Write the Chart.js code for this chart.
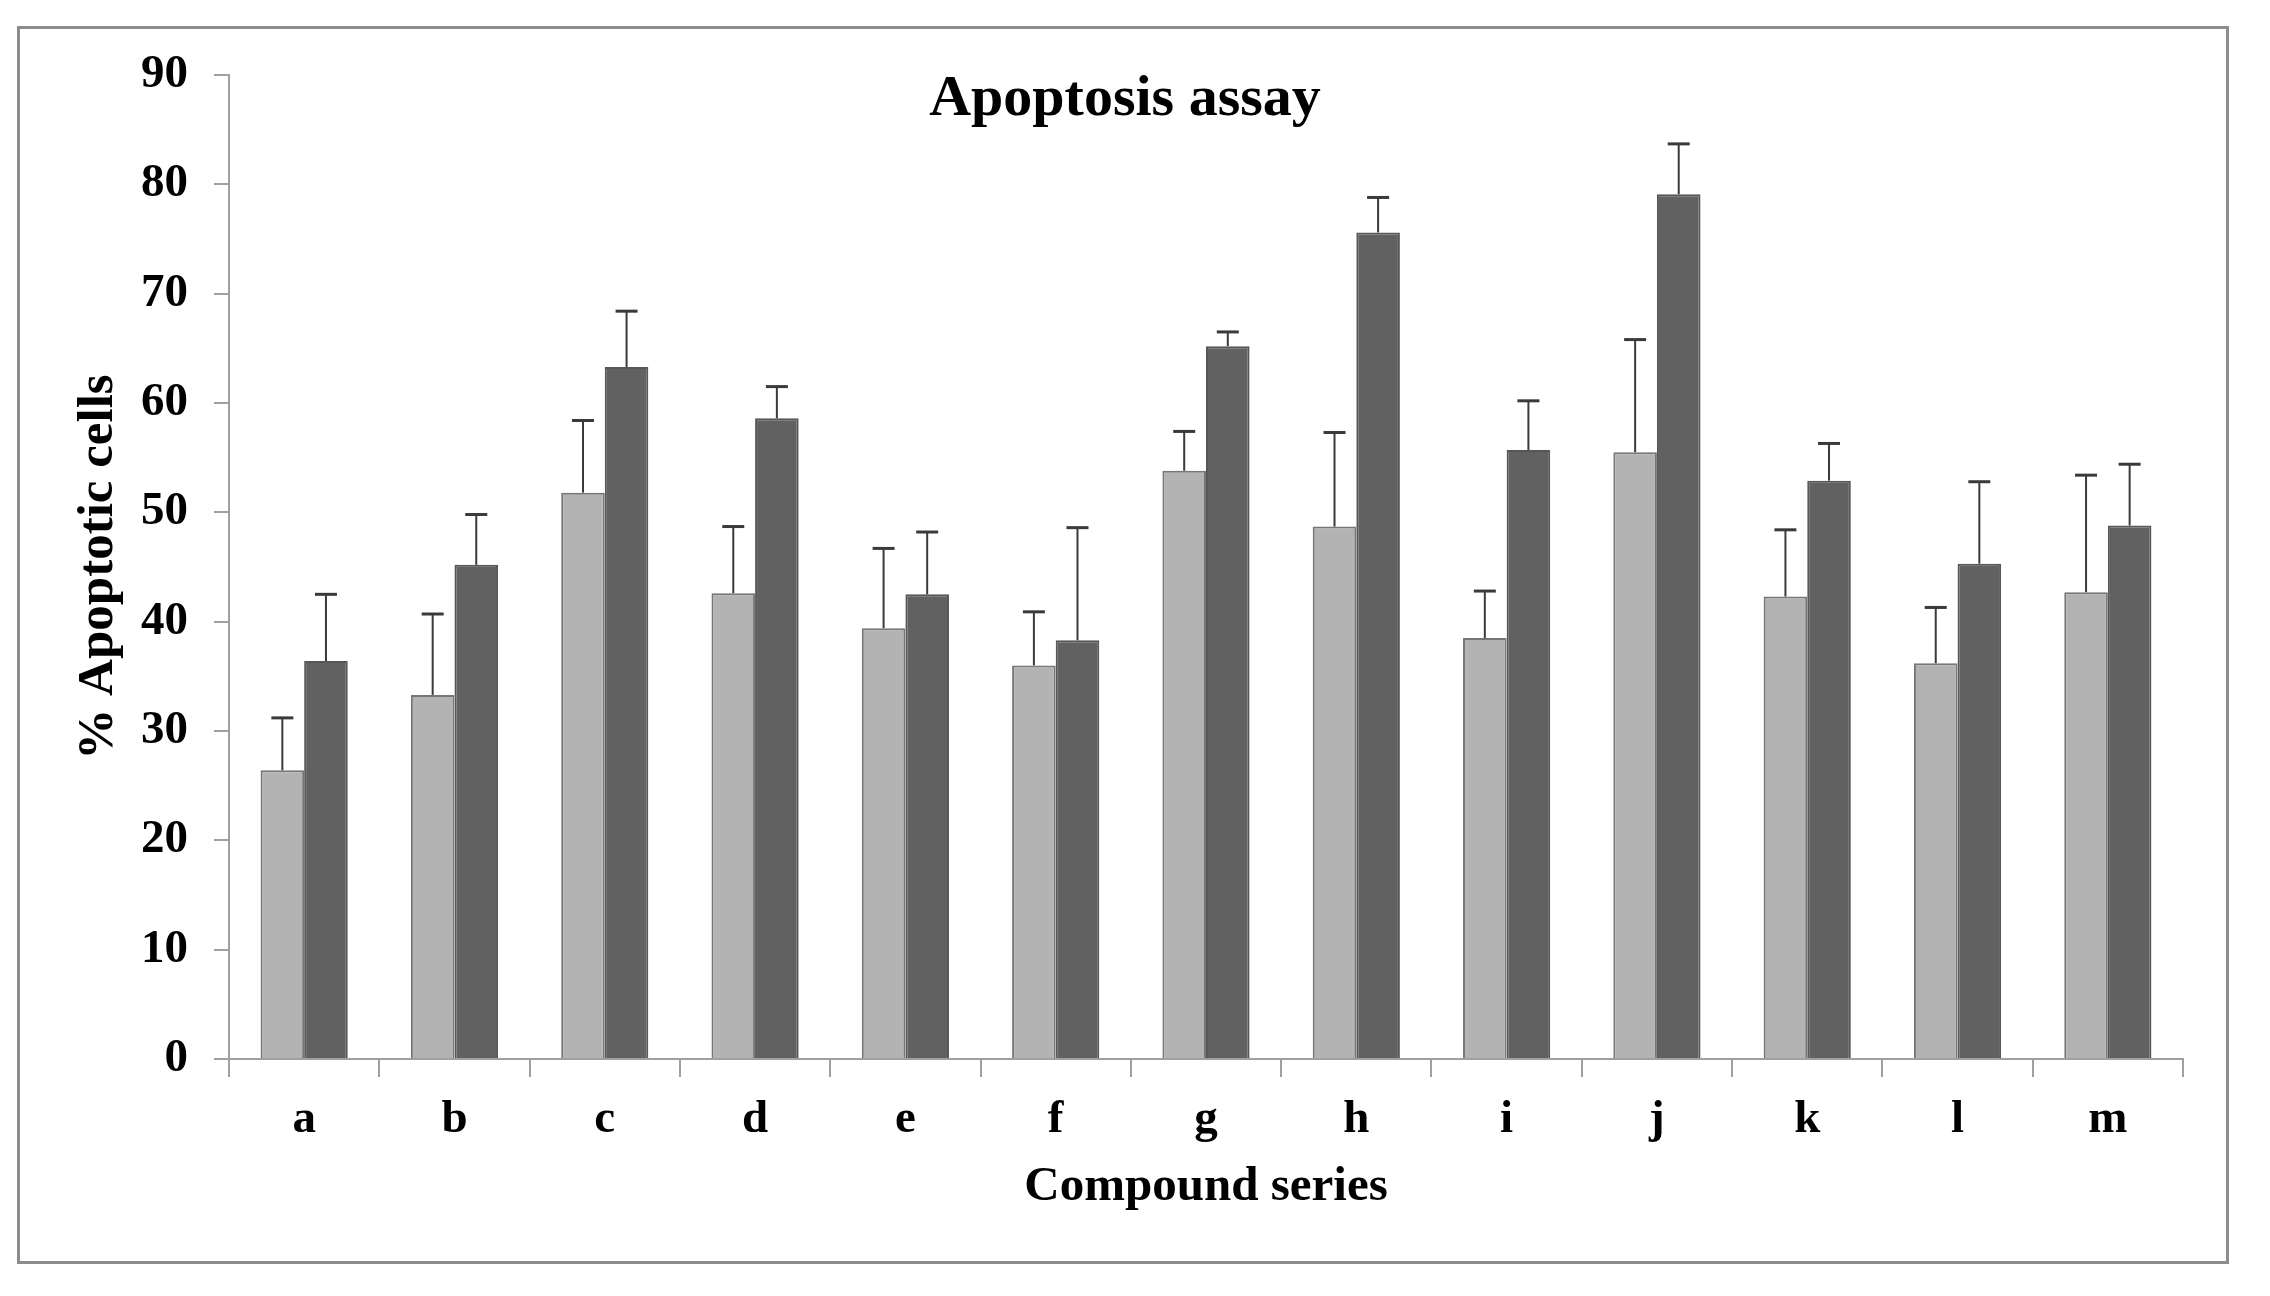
<!DOCTYPE html>
<html>
<head>
<meta charset="utf-8">
<script src="https://cdn.jsdelivr.net/npm/chart.js@4/dist/chart.umd.min.js"></script>
<style>
  html, body { margin: 0; padding: 0; background: #fff; }
  #wrap { position: relative; width: 2270px; height: 1296px; }
</style>
</head>
<body>
<div id="wrap"><canvas id="apoptosisChart"></canvas></div>
<script>
// ── DATA ─────────────────────────────
const categories = ["a", "b", "c", "d", "e", "f", "g", "h", "i", "j", "k", "l", "m"];
const lightValues = [26.4, 33.3, 51.8, 42.6, 39.4, 36.0, 53.8, 48.7, 38.5, 55.5, 42.3, 36.2, 42.7];
const lightErrors = [4.8, 7.4, 6.6, 6.1, 7.3, 4.9, 3.6, 8.6, 4.3, 10.3, 6.1, 5.1, 10.7];
const darkValues = [36.4, 45.2, 63.3, 58.6, 42.5, 38.3, 65.2, 75.6, 55.7, 79.1, 52.9, 45.3, 48.8];
const darkErrors = [6.1, 4.6, 5.1, 2.9, 5.7, 10.3, 1.3, 3.2, 4.5, 4.6, 3.4, 7.5, 5.6];
const yTicks = [0, 10, 20, 30, 40, 50, 60, 70, 80, 90];

const FONT = "'Liberation Serif', 'Times New Roman', serif";

// ── PLUGINS ─────────────────────────────
// outer frame + chart title
const framePlugin = {
  id: "frame",
  beforeDraw(chart) {
    const ctx = chart.ctx;
    ctx.save();
    ctx.fillStyle = "#fff";
    ctx.fillRect(0, 0, chart.width, chart.height);
    ctx.strokeStyle = "#8c8c8c";
    ctx.lineWidth = 3;
    ctx.strokeRect(18.5, 27.5, 2209, 1235);
    ctx.fillStyle = "#000";
    ctx.font = "bold 58px " + FONT;
    ctx.textAlign = "center";
    ctx.textBaseline = "alphabetic";
    ctx.fillText("Apoptosis assay", 1125, 115);
    ctx.restore();
  }
};

// upward error bars with caps
const errorBarPlugin = {
  id: "errorBars",
  afterDatasetsDraw(chart) {
    const ctx = chart.ctx;
    const yScale = chart.scales.y;
    chart.data.datasets.forEach((ds, i) => {
      const meta = chart.getDatasetMeta(i);
      meta.data.forEach((bar, j) => {
        const top = yScale.getPixelForValue(ds.data[j] + ds.errors[j]);
        const x = bar.x;
        ctx.save();
        ctx.strokeStyle = "#3a3a3a";
        ctx.lineWidth = 2;
        ctx.beginPath();
        ctx.moveTo(x, bar.y);
        ctx.lineTo(x, top);
        ctx.stroke();
        ctx.lineWidth = 3;
        ctx.beginPath();
        ctx.moveTo(x - 11, top);
        ctx.lineTo(x + 11, top);
        ctx.stroke();
        ctx.restore();
      });
    });
  }
};

// ── CHART ─────────────────────────────
new Chart(document.getElementById("apoptosisChart").getContext("2d"), {
  type: "bar",
  data: {
    labels: categories,
    datasets: [
      {
        label: "Series 1",
        data: lightValues,
        errors: lightErrors,
        backgroundColor: "#b3b3b3",
        borderColor: "#767676",
        borderWidth: 2,
        categoryPercentage: 0.58,
        barPercentage: 1.0
      },
      {
        label: "Series 2",
        data: darkValues,
        errors: darkErrors,
        backgroundColor: "#616161",
        borderColor: "#575757",
        borderWidth: 2,
        categoryPercentage: 0.58,
        barPercentage: 1.0
      }
    ]
  },
  options: {
    responsive: true,
    maintainAspectRatio: false,
    animation: false,
    devicePixelRatio: 1,
    layout: { padding: { top: 75, right: 87, bottom: 0, left: 0 } },
    plugins: {
      legend: { display: false },
      tooltip: { enabled: false }
    },
    scales: {
      x: {
        afterFit: s => { s.height = 237; },
        grid: {
          offset: true,
          drawOnChartArea: false,
          tickLength: 18,
          color: "#a0a0a0",
          lineWidth: 2
        },
        border: { display: true, color: "#a0a0a0", width: 2 },
        ticks: {
          color: "#000",
          padding: 15,
          font: { family: FONT, size: 47, weight: "bold" }
        },
        title: {
          display: true,
          text: "Compound series",
          color: "#000",
          padding: { top: 0, bottom: 79 },
          font: { family: FONT, size: 49, weight: "bold" }
        }
      },
      y: {
        min: 0,
        max: 90,
        afterFit: s => { s.width = 229; },
        afterBuildTicks: s => { s.ticks = yTicks.map(v => ({ value: v })); },
        grid: {
          drawOnChartArea: false,
          tickLength: 15,
          color: "#a0a0a0",
          lineWidth: 2
        },
        border: { display: true, color: "#a0a0a0", width: 2 },
        ticks: {
          color: "#000",
          padding: 26,
          font: { family: FONT, size: 47, weight: "bold" }
        },
        title: {
          display: true,
          text: "% Apoptotic cells",
          color: "#000",
          padding: { top: 68, bottom: 0 },
          font: { family: FONT, size: 51, weight: "bold" }
        }
      }
    }
  },
  plugins: [framePlugin, errorBarPlugin]
});
</script>
</body>
</html>
